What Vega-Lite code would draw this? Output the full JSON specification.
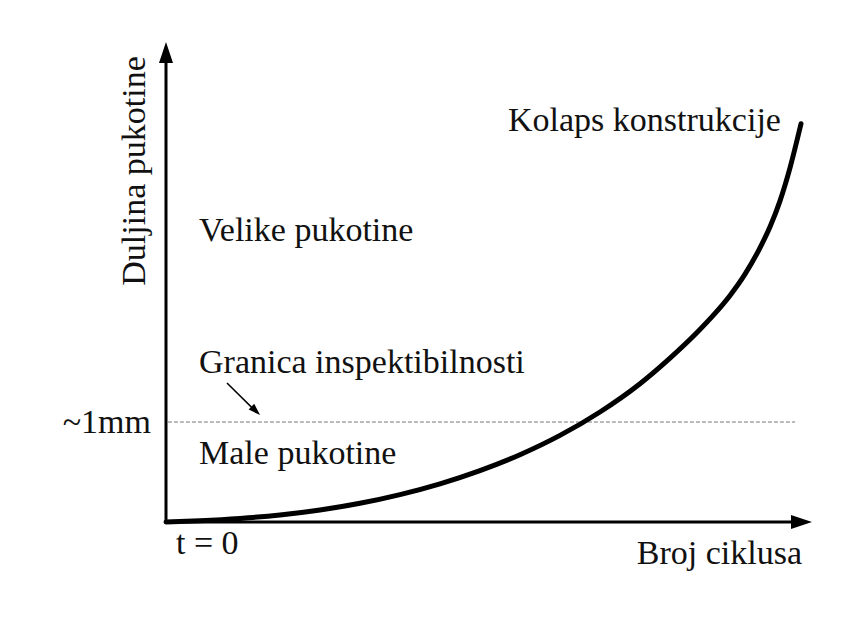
{
  "$schema": "https://vega.github.io/schema/vega-lite/v6.json",
  "width": 861,
  "height": 632,
  "autosize": "none",
  "padding": 0,
  "background": "white",
  "config": {"view": {"stroke": null}},
  "datasets": {
    "curve": [
      {"x": 0, "y": 0},
      {"x": 0.531, "y": 0.027},
      {"x": 1.156, "y": 0.075},
      {"x": 1.781, "y": 0.146},
      {"x": 2.406, "y": 0.25},
      {"x": 3.031, "y": 0.39},
      {"x": 3.656, "y": 0.571},
      {"x": 4.281, "y": 0.796},
      {"x": 4.906, "y": 1.071},
      {"x": 5.531, "y": 1.402},
      {"x": 6.156, "y": 1.804},
      {"x": 6.781, "y": 2.292},
      {"x": 7.406, "y": 2.881},
      {"x": 7.875, "y": 3.415},
      {"x": 8.297, "y": 3.949},
      {"x": 8.578, "y": 4.346},
      {"x": 8.813, "y": 4.721},
      {"x": 9.047, "y": 5.165},
      {"x": 9.281, "y": 5.712},
      {"x": 9.438, "y": 6.15},
      {"x": 9.594, "y": 6.691},
      {"x": 9.75, "y": 7.379},
      {"x": 9.922, "y": 8.296}
    ],
    "axes": [
      {"x": 0, "y": 0, "x2": 0, "y2": 9.6},
      {"x": 0, "y": 0, "x2": 9.8, "y2": 0}
    ],
    "threshold": [{"x": 0.03, "y": 2.083, "x2": 9.83, "y2": 2.083}],
    "pointer": [{"x": 0.953, "y": 2.896, "x2": 1.42, "y2": 2.28}],
    "yhead": [{"x": 0, "y": 9.781}],
    "xhead": [{"x": 9.93, "y": 0}],
    "phead": [{"x": 1.402, "y": 2.315}],
    "leftLabels": [
      {"x": 5.344, "y": 8.146, "label": "Kolaps konstrukcije"},
      {"x": 0.516, "y": 5.854, "label": "Velike pukotine"},
      {"x": 0.516, "y": 3.104, "label": "Granica inspektibilnosti"},
      {"x": 0.516, "y": 1.208, "label": "Male pukotine"},
      {"x": 0.156, "y": -0.667, "label": "t = 0"}
    ],
    "rightLabels": [
      {"x": -0.234, "y": 1.854, "label": "~1mm"},
      {"x": 9.9375, "y": -0.875, "label": "Broj ciklusa"}
    ],
    "ytitle": [{"x": -0.328, "y": 7.3125, "label": "Duljina pukotine"}]
  },
  "encoding": {
    "x": {"field": "x", "type": "quantitative", "axis": null, "scale": {"domain": [-2.59375, 10.859375], "nice": false, "zero": false}},
    "y": {"field": "y", "type": "quantitative", "axis": null, "scale": {"domain": [-2.291667, 10.875], "nice": false, "zero": false}}
  },
  "layer": [
    {
      "data": {"name": "threshold"},
      "mark": {"type": "rule", "stroke": "#777777", "strokeWidth": 1, "strokeDash": [4, 2]},
      "encoding": {"x2": {"field": "x2"}, "y2": {"field": "y2"}}
    },
    {
      "data": {"name": "axes"},
      "mark": {"type": "rule", "stroke": "#000000", "strokeWidth": 3},
      "encoding": {"x2": {"field": "x2"}, "y2": {"field": "y2"}}
    },
    {
      "data": {"name": "pointer"},
      "mark": {"type": "rule", "stroke": "#000000", "strokeWidth": 1.6},
      "encoding": {"x2": {"field": "x2"}, "y2": {"field": "y2"}}
    },
    {
      "data": {"name": "yhead"},
      "mark": {"type": "point", "shape": "M0,-1L0.667,1L-0.667,1Z", "size": 441, "filled": true, "color": "#000000", "opacity": 1, "angle": 0}
    },
    {
      "data": {"name": "xhead"},
      "mark": {"type": "point", "shape": "M0,-1L0.667,1L-0.667,1Z", "size": 441, "filled": true, "color": "#000000", "opacity": 1, "angle": 90}
    },
    {
      "data": {"name": "phead"},
      "mark": {"type": "point", "shape": "M0,-1L0.667,1L-0.667,1Z", "size": 144, "filled": true, "color": "#000000", "opacity": 1, "angle": 134}
    },
    {
      "data": {"name": "curve"},
      "mark": {"type": "line", "stroke": "#000000", "strokeWidth": 5, "interpolate": "monotone", "strokeCap": "round"}
    },
    {
      "data": {"name": "leftLabels"},
      "mark": {"type": "text", "align": "left", "baseline": "alphabetic", "font": "Liberation Serif", "fontSize": 34, "color": "#111111"},
      "encoding": {"text": {"field": "label"}}
    },
    {
      "data": {"name": "rightLabels"},
      "mark": {"type": "text", "align": "right", "baseline": "alphabetic", "font": "Liberation Serif", "fontSize": 34, "color": "#111111"},
      "encoding": {"text": {"field": "label"}}
    },
    {
      "data": {"name": "ytitle"},
      "mark": {"type": "text", "align": "center", "baseline": "alphabetic", "angle": 270, "font": "Liberation Serif", "fontSize": 34, "color": "#111111"},
      "encoding": {"text": {"field": "label"}}
    }
  ]
}
